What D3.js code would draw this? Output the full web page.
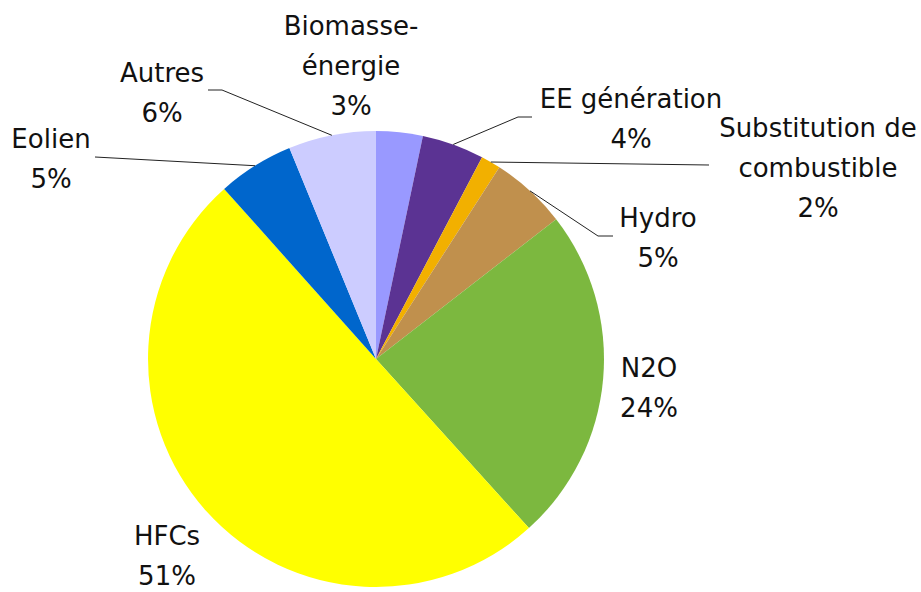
<!DOCTYPE html>
<html>
<head>
<meta charset="utf-8">
<script src="https://cdn.jsdelivr.net/npm/d3@7"></script>
<style>
  body { margin: 0; background: white; }
  svg { display: block; }
</style>
</head>
<body>
<svg id="chart"></svg>
<script>
// slice data, clockwise from 12 o'clock
var categories = ["Biomasse-énergie", "EE génération", "Substitution de combustible", "Hydro", "N2O", "HFCs", "Eolien", "Autres"];
var labelLines = [["Biomasse-", "énergie"], ["EE génération"], ["Substitution de", "combustible"], ["Hydro"], ["N2O"], ["HFCs"], ["Eolien"], ["Autres"]];
var values = [3.3, 4.4, 1.4, 5.4, 23.8, 50.1, 5.4, 6.2];
// percentages as printed on the data labels
var pctLabels = ["3%", "4%", "2%", "5%", "24%", "51%", "5%", "6%"];
var colors = ["#9999ff", "#5b3393", "#f2b000", "#c0904d", "#7cb83f", "#ffff00", "#0066cc", "#ccccff"];

// label layout (centre x, first baseline), leader bend points
var labelAt = [[351, 35], [631, 108], [818, 137], [658, 227], [649, 377], [167, 545], [51, 148], [162, 82]];
var leaders = [null, [[518, 117], [532, 117]], [[709, 165]], [[598, 236], [613, 236]], null, null, [[95, 157]], [[222, 90], [208, 90]]];

var W = 921, H = 592;
var cx = 376, cy = 359, R = 228;
var lineGap = 40;

var svg = d3.select("#chart")
    .attr("width", W)
    .attr("height", H);

var pie = d3.pie().sort(null).value(function(d){ return d; });
var arc = d3.arc().innerRadius(0).outerRadius(R);
var arcs = pie(values);

var g = svg.append("g").attr("transform", "translate(" + cx + "," + cy + ")");

g.selectAll("path.slice")
    .data(arcs)
    .enter().append("path")
    .attr("class", "slice")
    .attr("d", arc)
    .attr("fill", function(d, i){ return colors[i]; });

// leader lines from the rim at mid angle
var line = d3.line();
arcs.forEach(function(d, i) {
    if (!leaders[i]) return;
    var a = (d.startAngle + d.endAngle) / 2;
    var pts = [[cx + R * Math.sin(a), cy - R * Math.cos(a)]].concat(leaders[i]);
    svg.append("path")
        .attr("d", line(pts))
        .attr("fill", "none")
        .attr("stroke", "#222")
        .attr("stroke-width", 1);
});

// labels
var labels = svg.selectAll("text.lbl")
    .data(arcs)
    .enter().append("text")
    .attr("class", "lbl")
    .attr("text-anchor", "middle")
    .style("font-family", "DejaVu Sans")
    .style("font-size", "26px")
    .attr("fill", "#111");

labels.each(function(d, i) {
    var t = d3.select(this);
    var rows = labelLines[i].concat([pctLabels[i]]);
    rows.forEach(function(r, k) {
        t.append("tspan")
            .attr("x", labelAt[i][0])
            .attr("y", labelAt[i][1] + k * lineGap)
            .text(r);
    });
});
</script>
</body>
</html>
